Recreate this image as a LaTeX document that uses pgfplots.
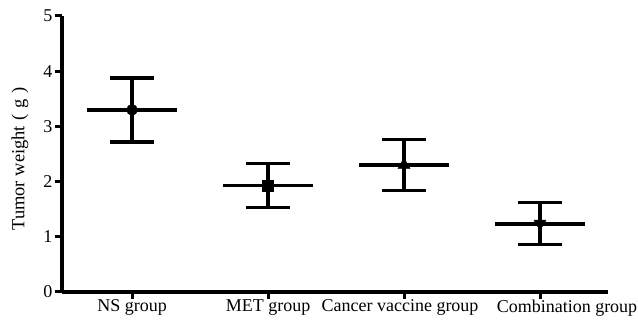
\documentclass[border=0pt]{standalone}
\usepackage{pgfplots}
\pgfplotsset{compat=1.18}
\usepackage{fontspec}
\setmainfont{Liberation Serif}
\begin{document}
\begin{tikzpicture}[x=1pt,y=1pt]
\path[use as bounding box] (-62,-31) rectangle (576,292);
\begin{axis}[
  at={(0,0)}, anchor=south west,
  scale only axis, width=546pt, height=276pt,
  xmin=-0.515, xmax=3.5, ymin=0, ymax=5,
  axis x line*=bottom, axis y line*=left,
  axis line style={line width=3.5pt,-},
  x axis line style={line width=3.5pt,-},
  y axis line style={line width=3.5pt,-},
  xtick={0,1,2,3},
  xticklabels={NS group, MET group, Cancer vaccine group\hspace*{8pt}, \hspace*{54pt}Combination group},
  ytick={0,1,2,3,4,5},
  tick style={line width=3pt, black},
  tick align=outside, major tick length=7pt,
  /pgf/number format/assume math mode=true,
  ticklabel style={font=\fontsize{18}{20}\selectfont},
  yticklabel style={xshift=1pt},
  xticklabel style={yshift=3pt},
  ylabel={Tumor weight\hspace{5pt}(\hspace{6pt}g\hspace{6pt})},
  ylabel style={font=\fontsize{18.5}{20}\selectfont, at={(axis description cs:-0.077,0.482)}, anchor=center},
  clip=false,
  error bars/y dir=both, error bars/y explicit,
  error bars/error bar style={line width=3.5pt, black},
  error bars/error mark options={rotate=90, line width=3.5pt, black, mark size=22pt},
]
\addplot[only marks, mark=*, mark size=5.5pt, black] coordinates {(0,3.30) +- (0,0.58)};
\addplot[only marks, mark=square*, mark size=5.5pt, black] coordinates {(1,1.93) +- (0,0.40)};
\addplot[only marks, mark=triangle*, mark size=7pt, black] coordinates {(2,2.30) +- (0,0.46)};
\addplot[only marks, mark=triangle*, mark options={rotate=180}, mark size=7pt, black] coordinates {(3,1.24) +- (0,0.38)};
\addplot[no marks, line width=3.5pt, black] coordinates {(-0.33,3.30) (0.33,3.30)};
\addplot[no marks, line width=3.5pt, black] coordinates {(0.67,1.93) (1.33,1.93)};
\addplot[no marks, line width=3.5pt, black] coordinates {(1.67,2.30) (2.33,2.30)};
\addplot[no marks, line width=3.5pt, black] coordinates {(2.67,1.23) (3.33,1.23)};
\end{axis}
\end{tikzpicture}
\end{document}
